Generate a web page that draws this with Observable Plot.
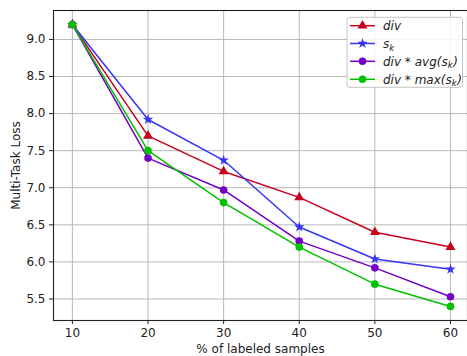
<!DOCTYPE html>
<html><head>
<meta charset="utf-8">
<script src="https://cdn.jsdelivr.net/npm/d3@7"></script>
<script src="https://cdn.jsdelivr.net/npm/@observablehq/plot@0.6"></script>
<style>
html,body{margin:0;padding:0;background:#fff}
#chart{position:relative;width:467px;height:356px;overflow:hidden}
</style>
</head><body><div id="chart"></div>
<script>
const labeled = [10, 20, 30, 40, 50, 60];
const divLoss = [9.2, 7.70, 7.22, 6.87, 6.40, 6.20];
const skLoss = [9.2, 7.92, 7.37, 6.47, 6.04, 5.90];
const divAvgLoss = [9.2, 7.40, 6.97, 6.28, 5.92, 5.53];
const divMaxLoss = [9.2, 7.50, 6.80, 6.20, 5.70, 5.40];
const xTicks = [10, 20, 30, 40, 50, 60];
const yTicks = [5.5, 6.0, 6.5, 7.0, 7.5, 8.0, 8.5, 9.0];
const seriesKeys = ["div", "sk", "avg", "max"];
const seriesColors = ["#c8001e", "#3636f2", "#7200c4", "#00c000"];
const seriesSymbols = ["triangle", "star", "circle", "circle"];
const seriesValues = [divLoss, skLoss, divAvgLoss, divMaxLoss];
const symbolR = {triangle: 3.7, star: 3.3, circle: 3.8};

const rows = [];
seriesKeys.forEach((k, i) => labeled.forEach((x, j) => rows.push({series: k, idx: i, x, y: seriesValues[i][j]})));

const marks = [
  Plot.gridX(xTicks, {stroke: "#b0b0b0", strokeOpacity: 1, strokeWidth: 0.9}),
  Plot.gridY(yTicks, {stroke: "#b0b0b0", strokeOpacity: 1, strokeWidth: 0.9}),
];
seriesKeys.forEach((k, i) => {
  const d = rows.filter(r => r.series === k);
  marks.push(Plot.line(d, {x: "x", y: "y", stroke: seriesColors[i], strokeWidth: 1.5}));
  marks.push(Plot.dot(d, {x: "x", y: "y", fill: seriesColors[i], stroke: "none", symbol: () => seriesSymbols[i], r: symbolR[seriesSymbols[i]]}));
});
marks.push(
  Plot.axisX(xTicks, {tickSize: 4, tickPadding: 4, fontSize: 12, stroke: "#222", label: "% of labeled samples", labelAnchor: "center", labelArrow: "none", labelOffset: 32}),
  Plot.axisY(yTicks, {tickSize: 4, tickPadding: 4, fontSize: 12, stroke: "#222", tickFormat: d3.format(".1f"), label: "Multi-Task Loss", labelAnchor: "center", labelArrow: "none", labelOffset: 42}),
  Plot.frame({stroke: "#222", strokeWidth: 1.1})
);

const plot = Plot.plot({
  width: 467, height: 356,
  marginLeft: 53, marginRight: 0, marginTop: 10, marginBottom: 36,
  style: {fontFamily: "DejaVu Sans", fontSize: "12px", color: "#222", background: "#fff"},
  x: {domain: [7.5, 62.25]},
  y: {domain: [5.21, 9.39]},
  marks
});
document.getElementById("chart").appendChild(plot);

// legend
const svg = d3.select(plot);
const lg = svg.append("g").attr("font-family", "DejaVu Sans").attr("font-size", 12).attr("font-style", "italic").attr("text-anchor", "start");
lg.append("rect").attr("x", 347).attr("y", 17.3).attr("width", 115.5).attr("height", 70).attr("rx", 3)
  .attr("fill", "#fff").attr("fill-opacity", 0.85).attr("stroke", "#c4c4c4").attr("stroke-width", 1);
const d3sym = {triangle: d3.symbolTriangle, star: d3.symbolStar, circle: d3.symbolCircle};
const legendLabels = [
  [["div", false]],
  [["s", false], ["k", true]],
  [["div * avg(s", false], ["k", true], [")", false]],
  [["div * max(s", false], ["k", true], [")", false]]
];
const rowY = [25.7, 43.5, 61.3, 79.3];
seriesKeys.forEach((k, i) => {
  const y = rowY[i];
  lg.append("line").attr("x1", 350).attr("x2", 375).attr("y1", y).attr("y2", y).attr("stroke", seriesColors[i]).attr("stroke-width", 1.5);
  const r = symbolR[seriesSymbols[i]];
  lg.append("path").attr("transform", `translate(362.5,${y})`).attr("fill", seriesColors[i])
    .attr("d", d3.symbol(d3sym[seriesSymbols[i]], Math.PI * r * r)());
  const t = lg.append("text").attr("x", 383).attr("y", y).attr("dy", "0.35em").attr("fill", "#222");
  legendLabels[i].forEach(([s, sub]) => {
    if (sub) {
      t.append("tspan").attr("dy", 2.8).attr("font-size", 8.5).text(s);
    } else {
      const ts = t.append("tspan").text(s);
      if (s.startsWith(")")) ts.attr("dy", -2.8).attr("dx", 0.5);
    }
  });
});
</script>
</body></html>
